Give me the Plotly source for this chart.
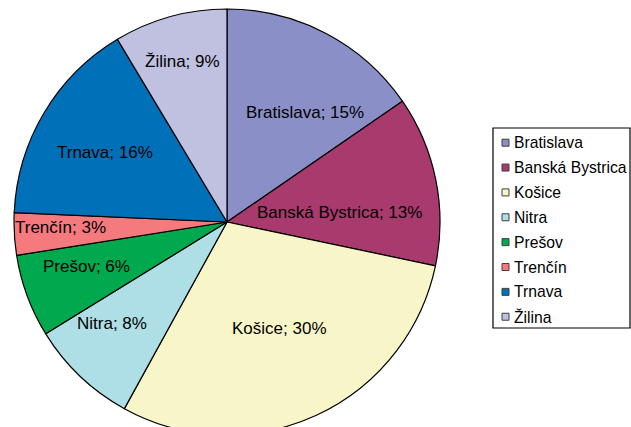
import math
import plotly.graph_objects as go

categories = ["Bratislava", "Banská Bystrica", "Košice", "Nitra", "Prešov", "Trenčín", "Trnava", "Žilina"]
values = [15.4, 12.9, 29.7, 8.2, 6.3, 3.2, 15.7, 8.6]
colors = ["#8b8fc8", "#a93a6e", "#f8f6c8", "#aedfe6", "#00a84e", "#f47a7e", "#0070b8", "#c0c0e0"]

# label placement style: (fraction of radius, angular nudge in degrees)
label_place = [(0.63, 7.9), (0.53, 6.7), (0.56, -1.6), (0.72, 5.1), (0.69, 2.9), (0.78, 1.2), (0.66, -1.3), (0.78, -0.1)]

W, H = 631, 440
cx, cy, r = 227, 222, 213
FONT = "Liberation Sans, Arial, sans-serif"

fig = go.Figure()
fig.add_trace(go.Pie(
    labels=categories,
    values=values,
    sort=False,
    direction="clockwise",
    rotation=0,
    marker=dict(colors=colors, line=dict(color="#000000", width=1.2)),
    textinfo="none",
    domain=dict(x=[(cx - r) / W, (cx + r) / W], y=[(H - cy - r) / H, (H - cy + r) / H]),
    showlegend=False,
    hoverinfo="label+percent",
))

annotations = []
total = sum(values)
cum = 0
for name, v, (rf, da) in zip(categories, values, label_place):
    mid = (cum + v / 2) / total * 360 + da
    cum += v
    th = math.radians(mid)
    px = cx + rf * r * math.sin(th)
    py = cy - rf * r * math.cos(th)
    annotations.append(dict(x=px / W, y=1 - py / H, xref="paper", yref="paper",
                            text=f"{name}; {round(v / total * 100)}%", showarrow=False,
                            xanchor="center", yanchor="middle",
                            font=dict(family=FONT, size=17, color="#000000")))

# legend box
lx0, ly0, lx1, ly1 = 493, 128, 630, 328
shapes = [dict(type="rect", xref="paper", yref="paper",
               x0=lx0 / W, x1=lx1 / W, y0=1 - ly1 / H, y1=1 - ly0 / H,
               line=dict(color="#000000", width=1.2), fillcolor="rgba(0,0,0,0)")]
row0, step = 142.7, 24.86
for i, (name, col) in enumerate(zip(categories, colors)):
    yc = row0 + i * step
    shapes.append(dict(type="rect", xref="paper", yref="paper",
                       x0=502 / W, x1=509 / W, y0=1 - (yc + 3.5) / H, y1=1 - (yc - 3.5) / H,
                       line=dict(color="#404040", width=1), fillcolor=col))
    annotations.append(dict(x=511.5 / W, y=1 - yc / H, xref="paper", yref="paper",
                            text=name, showarrow=False, xanchor="left", yanchor="middle",
                            font=dict(family=FONT, size=15.7, color="#000000")))

fig.update_layout(
    width=W, height=H,
    margin=dict(l=0, r=0, t=0, b=0),
    paper_bgcolor="#ffffff",
    plot_bgcolor="#ffffff",
    shapes=shapes,
    annotations=annotations,
)

fig.write_html("out.html", config={"displayModeBar": False},
               post_script="document.body.style.margin='0';document.body.style.overflow='hidden';document.documentElement.style.overflow='hidden';")
